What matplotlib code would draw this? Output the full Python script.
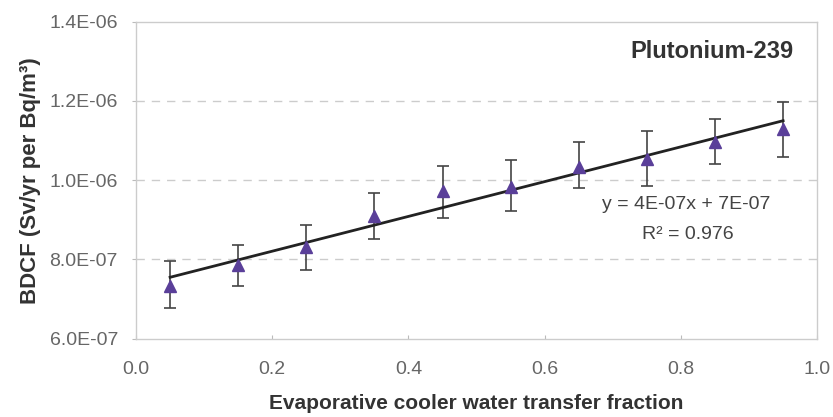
import matplotlib.pyplot as plt
import numpy as np

plt.rcParams['font.family'] = ['Liberation Sans', 'DejaVu Sans']

# data
fraction = [0.05, 0.15, 0.25, 0.35, 0.45, 0.55, 0.65, 0.75, 0.85, 0.95]
bdcf = [7.32e-7, 7.85e-7, 8.30e-7, 9.10e-7, 9.73e-7, 9.82e-7, 1.034e-6, 1.053e-6, 1.096e-6, 1.129e-6]
err_high = [7.95e-7, 8.36e-7, 8.86e-7, 9.67e-7, 1.035e-6, 1.051e-6, 1.096e-6, 1.124e-6, 1.154e-6, 1.197e-6]
err_low = [6.78e-7, 7.34e-7, 7.73e-7, 8.51e-7, 9.05e-7, 9.22e-7, 9.80e-7, 9.85e-7, 1.041e-6, 1.058e-6]
y_ticks = [6e-7, 8e-7, 1.0e-6, 1.2e-6, 1.4e-6]
y_tick_labels = ['6.0E-07', '8.0E-07', '1.0E-06', '1.2E-06', '1.4E-06']
x_ticks = [0.0, 0.2, 0.4, 0.6, 0.8, 1.0]
x_tick_labels = ['0.0', '0.2', '0.4', '0.6', '0.8', '1.0']

x = np.array(fraction)
y = np.array(bdcf)
yerr = [y - np.array(err_low), np.array(err_high) - y]

fig = plt.figure(figsize=(8.33, 4.17), dpi=100)
ax = fig.add_axes([0.1633, 0.188, 0.8177, 0.76])

# linear trend line
slope, intercept = np.polyfit(x, y, 1)
ax.plot(x, slope * x + intercept, color='#222222', lw=2, zorder=3)

ax.errorbar(x, y, yerr=yerr, fmt='none', ecolor='#444444', elinewidth=1.2,
            capsize=4.5, capthick=1.2, zorder=2)
ax.plot(x, y, linestyle='none', marker='^', markersize=8, color='#5a3f99', zorder=4)

ax.set_xlim(0, 1.0)
ax.set_ylim(6e-7, 1.4e-6)
ax.set_xticks(x_ticks)
ax.set_xticklabels(x_tick_labels)
ax.set_yticks(y_ticks)
ax.set_yticklabels(y_tick_labels)
ax.tick_params(axis='both', labelsize=14, labelcolor='#666666', color='#bbbbbb')
ax.tick_params(axis='y', length=3, pad=10)
ax.tick_params(axis='x', direction='in', length=3, pad=16)

for yy in y_ticks[1:4]:
    ax.axhline(yy, color='#cccccc', lw=1, ls=(0, (6, 5)), zorder=0)

for side in ['left', 'right', 'top', 'bottom']:
    ax.spines[side].set_color('#cccccc')
    ax.spines[side].set_linewidth(1)

ax.set_xlabel('Evaporative cooler water transfer fraction', fontsize=15,
              fontweight='bold', color='#333333', labelpad=12)
ax.set_ylabel('BDCF (Sv/yr per Bq/m³)', fontsize=16, fontweight='bold',
              color='#333333', labelpad=6)

ax.text(0.965, 0.905, 'Plutonium-239', transform=ax.transAxes, ha='right', va='center',
        fontsize=17, fontweight='bold', color='#333333')
ax.text(0.808, 0.423, 'y = 4E-07x + 7E-07', transform=ax.transAxes, ha='center',
        va='center', fontsize=14, color='#444444')
ax.text(0.81, 0.33, 'R² = 0.976', transform=ax.transAxes, ha='center',
        va='center', fontsize=14, color='#444444')

plt.savefig('out.png', dpi=100)
